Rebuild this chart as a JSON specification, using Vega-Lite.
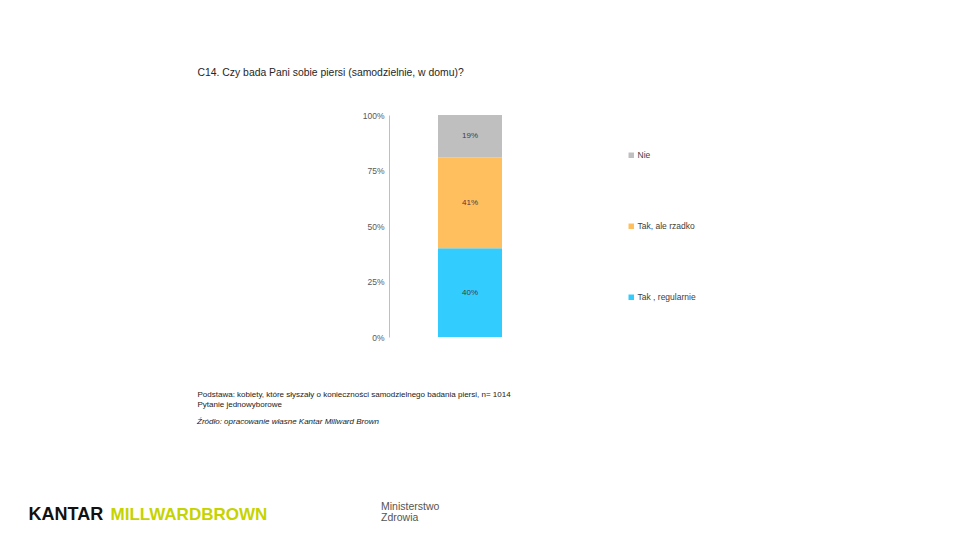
{
  "$schema": "https://vega.github.io/schema/vega-lite/v6.json",
  "width": 162,
  "height": 222,
  "autosize": {"type": "none"},
  "padding": {"left": 389, "top": 115, "right": 409, "bottom": 203},
  "background": "white",
  "config": {"view": {"stroke": null}, "font": "Liberation Sans"},
  "title": {
    "text": "Źródło: opracowanie własne Kantar Millward Brown",
    "subtitle": ["\u2800\u2800\u2800\u2800\u2800\u2800\u2800\u2800\u2800\u2800\u2800\u2800\u2800\u2800\u2800\u2800\u2800\u2800\u2800\u2800\u2800\u2800\u2800Ministerstwo", "\u2800\u2800\u2800\u2800\u2800\u2800\u2800\u2800\u2800\u2800\u2800\u2800\u2800\u2800\u2800\u2800\u2800\u2800\u2800\u2800\u2800\u2800\u2800Zdrowia"],
    "anchor": "start",
    "frame": "group",
    "orient": "bottom",
    "dx": -192,
    "dy": -105,
    "offset": 0,
    "fontSize": 8,
    "fontStyle": "italic",
    "fontWeight": "normal",
    "color": "#1a1a1a",
    "subtitleFontSize": 10.5,
    "subtitleFontStyle": "normal",
    "subtitleColor": "#555555",
    "subtitleLineHeight": 11,
    "subtitlePadding": 76
  },
  "data": {
    "values": [
      {"group": "C14", "answer": "Tak , regularnie", "value": 0.40, "order": 1},
      {"group": "C14", "answer": "Tak, ale rzadko", "value": 0.41, "order": 2},
      {"group": "C14", "answer": "Nie", "value": 0.19, "order": 3}
    ]
  },
  "layer": [
    {
      "mark": {"type": "bar", "width": 64},
      "encoding": {
        "x": {
          "field": "group",
          "type": "nominal",
          "axis": {
            "orient": "bottom",
            "labels": false,
            "ticks": false,
            "domain": false,
            "title": [
              "Podstawa: kobiety, które słyszały o konieczności samodzielnego badania piersi, n= 1014",
              "Pytanie jednowyborowe"
            ],
            "titleX": -192,
            "titleY": 53,
            "titleAlign": "left",
            "titleBaseline": "top",
            "titleFontSize": 8,
            "titleFontWeight": "normal",
            "titleColor": "#1a1a1a",
            "titleLineHeight": 10.5
          }
        },
        "y": {
          "field": "value",
          "type": "quantitative",
          "stack": "zero",
          "scale": {"domain": [0, 1], "nice": false},
          "axis": {
            "values": [0, 0.25, 0.5, 0.75, 1],
            "format": ".0%",
            "ticks": false,
            "grid": false,
            "domainColor": "#BFBFBF",
            "labelFontSize": 8.5,
            "labelColor": "#595959",
            "labelPadding": 5,
            "title": "C14. Czy bada Pani sobie piersi (samodzielnie, w domu)?",
            "titleAngle": 0,
            "titleX": -192,
            "titleY": -40,
            "titleAlign": "left",
            "titleBaseline": "alphabetic",
            "titleFontSize": 10.4,
            "titleFontWeight": "normal",
            "titleColor": "#262626"
          }
        },
        "color": {
          "field": "answer",
          "type": "nominal",
          "scale": {
            "domain": ["Nie", "Tak, ale rzadko", "Tak , regularnie"],
            "range": ["#BFBFBF", "#FFBF5F", "#33CCFF"]
          },
          "legend": {
            "orient": "none",
            "legendX": 238,
            "legendY": 36,
            "title": null,
            "symbolType": "square",
            "symbolSize": 30,
            "symbolStrokeWidth": 0,
            "labelFontSize": 8.5,
            "labelOffset": 2,
            "labelColor": "#404040",
            "rowPadding": 62
          }
        },
        "order": {"field": "order", "type": "quantitative"}
      }
    },
    {
      "transform": [
        {"stack": "value", "groupby": ["group"], "sort": [{"field": "order"}], "as": ["v0", "v1"]},
        {"calculate": "(datum.v0 + datum.v1) / 2", "as": "mid"}
      ],
      "mark": {"type": "text", "fontSize": 8, "color": "#404040"},
      "encoding": {
        "x": {
          "field": "group",
          "type": "nominal",
          "axis": {
            "orient": "top",
            "labels": false,
            "ticks": false,
            "domain": false,
            "title": "MILLWARDBROWN",
            "titleX": -279,
            "titleY": 404,
            "titleAlign": "left",
            "titleBaseline": "alphabetic",
            "titleFontSize": 17,
            "titleFontWeight": "bold",
            "titleColor": "#C5D300"
          }
        },
        "y": {
          "field": "mid",
          "type": "quantitative",
          "scale": {"domain": [0, 1], "nice": false},
          "axis": {
            "orient": "right",
            "labels": false,
            "ticks": false,
            "domain": false,
            "grid": false,
            "title": "KANTAR",
            "titleAngle": 0,
            "titleX": -523,
            "titleY": 404,
            "titleAlign": "left",
            "titleBaseline": "alphabetic",
            "titleFontSize": 18,
            "titleFontWeight": "bold",
            "titleColor": "#111111"
          }
        },
        "text": {"field": "value", "type": "quantitative", "format": ".0%"}
      }
    }
  ],
  "resolve": {"scale": {"x": "independent", "y": "independent"}}
}
